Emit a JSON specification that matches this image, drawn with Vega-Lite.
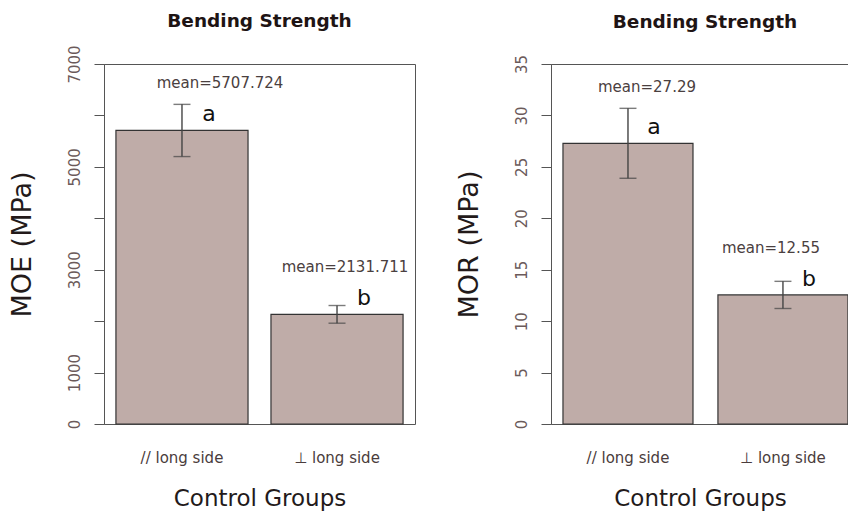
{
  "$schema": "https://vega.github.io/schema/vega-lite/v6.json",
  "background": "white",
  "padding": {"left": 7, "top": 11, "right": 0, "bottom": 0},
  "spacing": 136,
  "bounds": "flush",
  "config": {
    "font": "DejaVu Sans",
    "view": {"stroke": "#555555", "strokeWidth": 1},
    "axis": {
      "grid": false,
      "domainColor": "#555555",
      "tickColor": "#555555",
      "labelColor": "#6b5a5a",
      "titleColor": "#231a1a",
      "titleFontWeight": "normal"
    },
    "axisX": {
      "ticks": false,
      "domain": false,
      "labelAngle": 0,
      "labelFontSize": 15,
      "labelColor": "#4a3c3c",
      "labelPadding": 26,
      "titleFontSize": 23,
      "titlePadding": 22
    },
    "axisY": {
      "labelAngle": 270,
      "labelAlign": "center",
      "labelBaseline": "bottom",
      "labelFontSize": 15,
      "labelPadding": 12,
      "labelFlush": false,
      "labelOverlap": false,
      "tickSize": 10,
      "titleFontSize": 27,
      "titlePadding": 31
    },
    "title": {"fontSize": 18.5, "fontWeight": "bold", "color": "#1e1414"}
  },
  "datasets": {
    "bending": [
      {"panel": "MOE", "group": "// long side", "mean": 5707.724, "lo": 5200, "hi": 6215, "letter": "a", "label": "mean=5707.724"},
      {"panel": "MOE", "group": "⊥ long side", "mean": 2131.711, "lo": 1960, "hi": 2304, "letter": "b", "label": "mean=2131.711"},
      {"panel": "MOR", "group": "// long side", "mean": 27.29, "lo": 23.89, "hi": 30.69, "letter": "a", "label": "mean=27.29"},
      {"panel": "MOR", "group": "⊥ long side", "mean": 12.55, "lo": 11.23, "hi": 13.87, "letter": "b", "label": "mean=12.55"}
    ]
  },
  "hconcat": [
    {
      "width": 311,
      "height": 360,
      "title": {"text": "Bending Strength", "offset": 14},
      "data": {"name": "bending"},
      "transform": [{"filter": "datum.panel === 'MOE'"}],
      "encoding": {
        "x": {
          "field": "group",
          "type": "nominal",
          "sort": null,
          "title": "Control Groups",
          "scale": {"paddingInner": 0.148, "paddingOuter": 0.077}
        }
      },
      "layer": [
        {
          "mark": {"type": "bar", "fill": "#bfaca8", "stroke": "#333333", "strokeWidth": 1.2},
          "encoding": {
            "y": {
              "field": "mean",
              "type": "quantitative",
              "title": "MOE (MPa)",
              "scale": {"domain": [0, 7000], "nice": false},
              "axis": {
                "values": [0, 1000, 2000, 3000, 4000, 5000, 6000, 7000],
                "format": "d",
                "labelExpr": "(datum.value == 0 || datum.value % 2000 == 1000) ? datum.label : ''"
              }
            }
          }
        },
        {
          "mark": {"type": "rule", "color": "#444444", "strokeWidth": 1.4},
          "encoding": {"y": {"field": "lo", "type": "quantitative"}, "y2": {"field": "hi"}}
        },
        {
          "mark": {"type": "tick", "orient": "horizontal", "size": 17, "thickness": 1.4, "color": "#444444"},
          "encoding": {"y": {"field": "lo", "type": "quantitative"}}
        },
        {
          "mark": {"type": "tick", "orient": "horizontal", "size": 17, "thickness": 1.4, "color": "#444444"},
          "encoding": {"y": {"field": "hi", "type": "quantitative"}}
        },
        {
          "mark": {"type": "text", "fontSize": 22, "color": "#111111", "align": "center", "baseline": "alphabetic", "dx": 27, "dy": -9},
          "encoding": {"y": {"field": "mean", "type": "quantitative"}, "text": {"field": "letter"}}
        },
        {
          "transform": [{"filter": "datum.group === '// long side'"}],
          "mark": {"type": "text", "fontSize": 15, "color": "#4a4040", "align": "center", "baseline": "middle", "dx": 38, "dy": -47},
          "encoding": {"y": {"field": "mean", "type": "quantitative"}, "text": {"field": "label"}}
        },
        {
          "transform": [{"filter": "datum.group !== '// long side'"}],
          "mark": {"type": "text", "fontSize": 15, "color": "#4a4040", "align": "center", "baseline": "middle", "dx": 8, "dy": -47},
          "encoding": {"y": {"field": "mean", "type": "quantitative"}, "text": {"field": "label"}}
        }
      ]
    },
    {
      "width": 298,
      "height": 360,
      "title": {"text": "Bending Strength", "offset": 23, "dx": 5},
      "data": {"name": "bending"},
      "transform": [{"filter": "datum.panel === 'MOR'"}],
      "encoding": {
        "x": {
          "field": "group",
          "type": "nominal",
          "sort": null,
          "title": "Control Groups",
          "scale": {"paddingInner": 0.161, "paddingOuter": 0.042, "align": 0.92}
        }
      },
      "layer": [
        {
          "mark": {"type": "bar", "fill": "#bfaca8", "stroke": "#333333", "strokeWidth": 1.2},
          "encoding": {
            "y": {
              "field": "mean",
              "type": "quantitative",
              "title": "MOR (MPa)",
              "scale": {"domain": [0, 35], "nice": false},
              "axis": {"values": [0, 5, 10, 15, 20, 25, 30, 35], "format": "d"}
            }
          }
        },
        {
          "mark": {"type": "rule", "color": "#444444", "strokeWidth": 1.4},
          "encoding": {"y": {"field": "lo", "type": "quantitative"}, "y2": {"field": "hi"}}
        },
        {
          "mark": {"type": "tick", "orient": "horizontal", "size": 17, "thickness": 1.4, "color": "#444444"},
          "encoding": {"y": {"field": "lo", "type": "quantitative"}}
        },
        {
          "mark": {"type": "tick", "orient": "horizontal", "size": 17, "thickness": 1.4, "color": "#444444"},
          "encoding": {"y": {"field": "hi", "type": "quantitative"}}
        },
        {
          "mark": {"type": "text", "fontSize": 22, "color": "#111111", "align": "center", "baseline": "alphabetic", "dx": 26, "dy": -9},
          "encoding": {"y": {"field": "mean", "type": "quantitative"}, "text": {"field": "letter"}}
        },
        {
          "transform": [{"filter": "datum.group === '// long side'"}],
          "mark": {"type": "text", "fontSize": 15, "color": "#4a4040", "align": "center", "baseline": "middle", "dx": 19, "dy": -56},
          "encoding": {"y": {"field": "mean", "type": "quantitative"}, "text": {"field": "label"}}
        },
        {
          "transform": [{"filter": "datum.group !== '// long side'"}],
          "mark": {"type": "text", "fontSize": 15, "color": "#4a4040", "align": "center", "baseline": "middle", "dx": -12, "dy": -47},
          "encoding": {"y": {"field": "mean", "type": "quantitative"}, "text": {"field": "label"}}
        }
      ]
    }
  ]
}
